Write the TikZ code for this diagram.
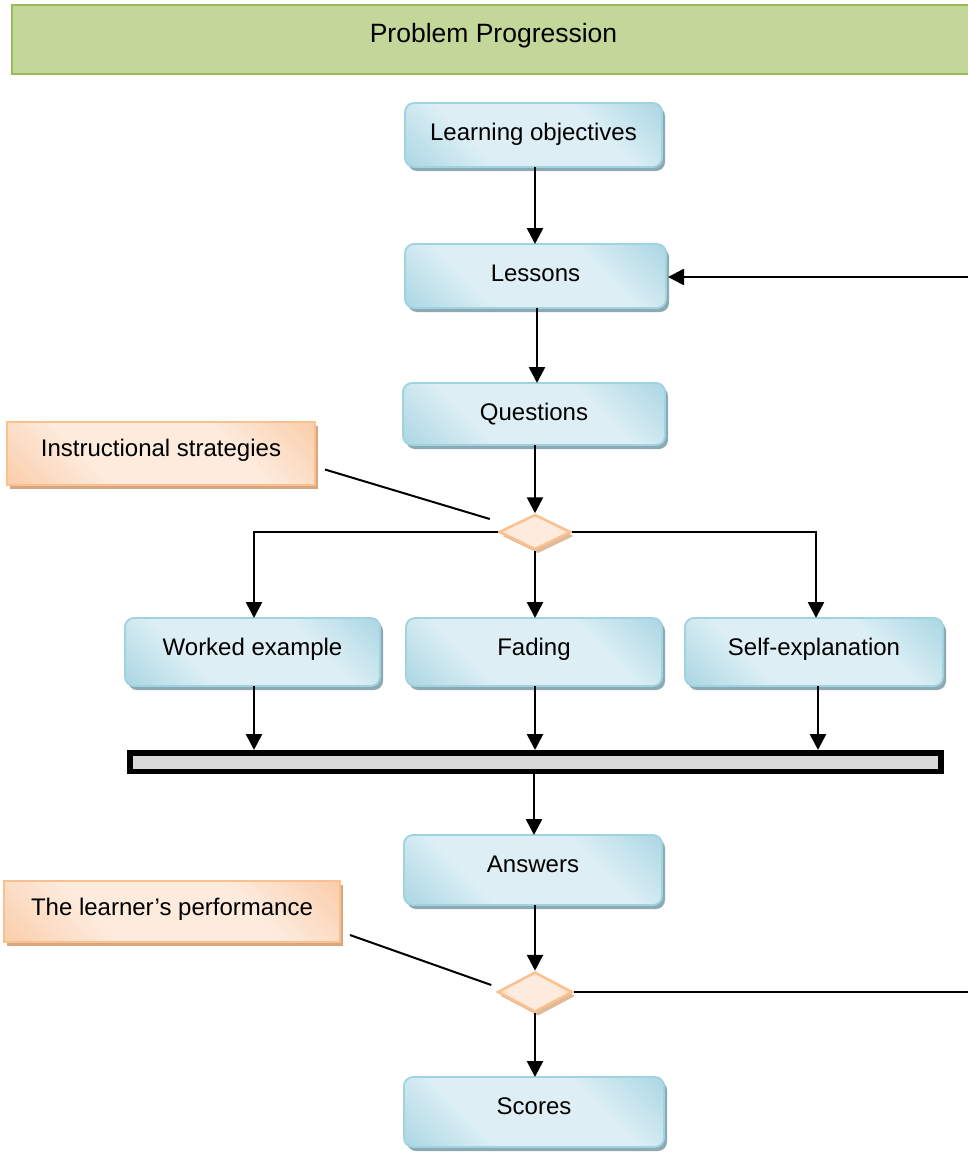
\documentclass[tikz,border=0pt]{standalone}
\usepackage{fontspec}
\setmainfont{Liberation Sans}
\usetikzlibrary{shapes.geometric,shadows,calc,arrows.meta}

\definecolor{bluedark}{HTML}{86C5D6}
\definecolor{bluelight}{HTML}{DDEFF5}
\definecolor{blueshadow}{HTML}{8DA9B3}
\definecolor{blueline}{HTML}{9FD3E0}
\definecolor{orgdark}{HTML}{F8B885}
\definecolor{orglight}{HTML}{FDEBDD}
\definecolor{orgshadow}{HTML}{D6A781}
\definecolor{orgline}{HTML}{FAC090}
\definecolor{titlefill}{HTML}{C4D79B}
\definecolor{titleline}{HTML}{9BBB59}
\definecolor{bargray}{HTML}{D9D9D9}

\pgfdeclarehorizontalshading{bluesheen}{100bp}{color(0bp)=(bluedark); color(35bp)=(bluelight); color(65bp)=(bluelight); color(100bp)=(bluedark)}
\pgfdeclarehorizontalshading{orangesheen}{100bp}{color(0bp)=(orgdark); color(35bp)=(orglight); color(65bp)=(orglight); color(100bp)=(orgdark)}

\tikzset{
  x=1pt, y=-1pt,
  txt/.style={font=\fontsize{24}{28}\selectfont, inner sep=0pt, outer sep=0pt, anchor=north west},
  bluebox/.style={txt, text height=37pt, rounded corners=9pt, draw=blueline, line width=1.8pt,
    shading=bluesheen, shading angle=45,
    drop shadow={shadow xshift=3pt, shadow yshift=-4pt, fill=blueshadow, opacity=1}},
  notebox/.style={txt, text height=34pt, draw=orgline, line width=1.5pt,
    shading=orangesheen, shading angle=45,
    drop shadow={shadow xshift=3pt, shadow yshift=-4pt, fill=orgshadow, opacity=1}},
  choice/.style={diamond, inner sep=0pt, draw=orgline, line width=2.5pt,
    shading=orangesheen, shading angle=45,
    drop shadow={shadow xshift=3pt, shadow yshift=-4pt, fill=orgshadow!80, opacity=1}},
  arr/.style={line width=2.6pt, -{Triangle[length=16pt,width=16pt]}},
  callout/.style={line width=2pt},
}

\begin{document}
\begin{tikzpicture}
\useasboundingbox (0,0) rectangle (967,1154);

% heading band
\node[txt, font=\fontsize{26.5}{30}\selectfont, text height=37pt, text depth=32pt,
      minimum width=963pt, fill=titlefill, draw=titleline, line width=2pt] (title) at (12,5)
      {Problem Progression};

% main flow
\node[bluebox, minimum width=257pt, text depth=27pt] (lo)  at (405,103)  {Learning objectives};
\node[bluebox, minimum width=261pt, text depth=27pt] (les) at (405,244)  {Lessons};
\node[bluebox, minimum width=262pt, text depth=25pt] (q)   at (403,383)  {Questions};

\node[notebox, minimum width=308pt, text depth=29pt] (is) at (7,422) {Instructional strategies};
\node[choice, minimum width=72pt, minimum height=35pt] (d1) at (535,532) {};

\node[bluebox, minimum width=255pt, text depth=31pt] (we)  at (125,618) {Worked example};
\node[bluebox, minimum width=256pt, text depth=31pt] (fad) at (406,618) {Fading};
\node[bluebox, minimum width=258pt, text depth=31pt] (se)  at (685,618) {Self-explanation};

\node[draw=black, line width=5.5pt, fill=bargray, minimum width=811pt, minimum height=18.5pt,
      inner sep=0pt] (bar) at (535.5,762) {};

\node[bluebox, minimum width=258pt, text depth=33pt] (ans) at (404,835)  {Answers};
\node[notebox, minimum width=336pt, text depth=27pt] (lp) at (4,881) {The learner’s performance};
\node[choice, minimum width=75pt, minimum height=40pt] (d2) at (535,992) {};
\node[bluebox, minimum width=260pt, text depth=33pt] (sc)  at (404,1077) {Scores};

% connectors
\draw[arr] (lo.south -| 535,0) -- (les.north -| 535,0);
\draw[arr] (les.south -| 537,0) -- (q.north -| 537,0);
\draw[arr] (q.south -| d1.north) -- (d1.north);
\draw[arr] (d1.west) -| (we.north -| 254,0);
\draw[arr] (d1.east) -| (se.north -| 816,0);
\draw[arr] (d1.south) -- (d1.south |- fad.north);
\draw[arr] (we.south -| 254,0) -- (bar.north -| 254,0);
\draw[arr] (fad.south -| 535,0) -- (bar.north -| 535,0);
\draw[arr] (se.south -| 818,0) -- (bar.north -| 818,0);
\draw[arr] (bar.south -| 534,0) -- (ans.north -| 534,0);
\draw[arr] (ans.south -| d2.north) -- (d2.north);
\draw[arr] (d2.south) -- (d2.south |- sc.north);
\draw[arr] (d2.east) -- ++(480,0) |- ($(les.east)+(2,1)$);

% callout leaders
\draw[callout] ($(is.east)+(10,16)$) -- ($(d1.west)+(-8,-13)$);
\draw[callout] ($(lp.east)+(10,23.5)$) -- ($(d2.west)+(-5,-7)$);
\end{tikzpicture}
\end{document}
